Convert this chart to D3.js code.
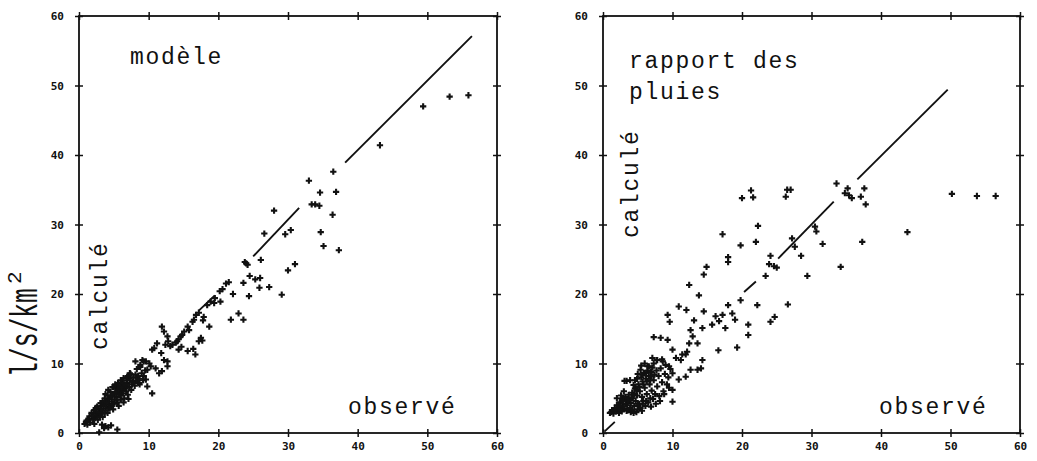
<!DOCTYPE html>
<html><head><meta charset="utf-8">
<script src="https://cdn.jsdelivr.net/npm/d3@7"></script>
<style>body{margin:0;background:#fff}svg{display:block}</style>
</head><body>
<svg id="c" width="1037" height="461"></svg>
<script>
// ---- data ----
const tickValues = [0, 10, 20, 30, 40, 50, 60];

// panel 1 "modèle": [observé, calculé]
const modelPoints = [
[49.4,47.0],[53.2,48.4],[55.9,48.6],[43.2,41.4],
[36.5,37.6],[33.0,36.3],[34.6,34.6],[36.9,34.7],[33.4,32.9],[33.9,32.9],[34.5,32.7],[36.4,31.4],[28.0,32.0],
[34.7,28.9],[35.1,26.9],[37.3,26.3],[26.6,28.7],[29.6,28.6],[30.4,29.2],[30.0,23.4],[31.0,24.3],[26.1,24.9],
[23.8,24.6],[24.0,24.4],[24.2,24.2],[24.5,22.6],[23.6,21.6],[25.3,22.1],[26.0,22.3],[25.9,20.9],[27.3,21.0],
[29.1,19.9],[24.4,19.7],[22.1,20.0],[21.5,21.7],[21.1,21.5],[20.6,20.7],[20.2,20.4],[22.9,17.2],[21.8,16.3],
[23.6,16.3],[19.5,19.4],[18.9,18.9],[18.4,18.4],[19.4,18.7],[20.3,18.9],[18.7,15.3],[17.2,17.3],[16.8,17.0],
[17.9,16.7],[17.8,16.2],[17.5,13.7],[17.2,13.2],[17.7,13.3],[16.3,16.0],[16.5,16.3],[15.6,15.3],[15.8,14.8],
[15.1,14.6],[14.8,14.1],[14.6,13.9],[14.3,13.5],[14.1,13.2],[13.9,13.0],[13.4,12.7],[13.1,12.5],[11.9,15.3],
[12.2,14.6],[15.6,11.8],[16.4,12.1],[16.7,11.3],[14.3,12.0],[14.7,12.4],[12.7,13.9],[12.8,13.2],[12.4,12.7],
[11.2,12.9],[10.5,12.0],[10.8,12.2],[11.8,11.5],[12.2,10.5],[12.7,10.3],[9.6,10.3],[9.1,10.5],[10.1,10.0],
[11.9,8.9],[12.7,9.6],[10.5,5.7],[9.8,6.7],[9.3,10.3],[11.0,9.3],[11.5,8.6],[8.4,7.9],[8.6,7.2],[9.6,7.7],
[8.1,10.3],[8.8,9.8],
[0.8,1.3],[1.0,1.6],[1.2,1.2],[1.4,2.0],[1.6,1.5],[1.8,2.4],[1.3,1.9],[2.0,1.9],[2.1,2.8],[2.3,2.2],[2.5,3.0],
[2.6,2.4],[2.8,3.5],[2.9,2.6],[3.0,3.1],[3.2,3.9],[3.3,2.9],[3.5,3.5],[3.6,4.2],[3.8,3.2],[3.9,3.8],[4.0,4.6],
[4.2,3.6],[4.3,4.1],[4.4,5.0],[4.6,3.9],[4.7,4.5],[4.8,5.4],[5.0,4.2],[5.1,4.8],[5.2,5.8],[5.3,6.5],[5.4,5.2],
[5.5,4.4],[5.6,6.0],[5.8,5.5],[5.9,6.8],[6.0,4.8],[6.1,6.2],[6.3,5.7],[6.4,7.0],[6.5,5.0],[6.6,6.4],[6.8,6.0],
[6.9,7.2],[7.0,5.5],[7.2,6.6],[7.3,7.6],[7.5,6.2],[7.6,7.0],[7.8,8.0],[8.0,6.8],[8.2,7.5],[8.5,8.2],[8.7,7.0],
[9.0,8.6],[9.2,7.6],[9.5,9.0],[8.3,9.2],[8.8,9.5],
[2.2,1.3],[2.7,1.9],[3.4,2.3],[4.1,2.9],[4.9,3.4],[5.7,3.9],[6.4,4.4],[7.1,4.9],[1.8,2.9],[2.4,3.6],[3.1,4.3],
[3.7,5.0],[4.5,5.9],[5.0,6.6],[6.2,7.3],[7.0,8.2],[7.4,8.5],
[1.5,2.4],[2.0,2.5],[2.4,2.8],[2.8,3.0],[3.1,3.5],[3.5,4.1],[3.9,4.4],[4.2,4.9],[4.6,5.3],[5.0,5.6],[5.3,5.9],
[5.7,6.3],[6.1,6.6],[6.5,6.8],[6.8,7.6],[7.2,7.9],[7.7,7.4],[8.1,8.4],[6.0,5.4],[5.4,4.8],[4.8,4.1],[4.4,3.5],
[3.7,2.8],[3.0,2.3],[1.1,1.8],[2.2,3.3],[2.6,3.8],[3.4,4.6],[4.1,5.4],[5.6,6.8],[6.7,6.9],[7.9,7.2],[8.6,7.8],
[9.3,8.2],[9.8,9.1],[10.3,9.6],
[4.8,6.6],[5.2,7.0],[5.6,7.2],[6.0,7.6],[6.4,7.9],[6.9,8.0],[7.3,8.6],[3.8,5.6],[4.2,6.2],[7.2,8.3],
[3.3,1.2],[3.8,1.0],[4.2,0.8],[4.6,1.1],[3.6,0.7],[5.5,0.5],[2.9,0.1]
];
const modelLine = [
  [[17.2,17.6],[19.5,19.8]],
  [[25.0,25.4],[31.6,32.4]],
  [[38.2,38.9],[56.4,57.1]]
];

// panel 2 "rapport des pluies": [observé, calculé]
const ratioPoints = [
[50.2,34.4],[53.8,34.1],[56.5,34.1],[43.8,28.9],[33.6,35.9],[35.2,35.2],[35.4,34.2],[34.8,34.5],[35.8,33.8],
[37.1,34.0],[37.6,35.2],[37.8,32.9],[37.3,27.5],[34.2,23.9],[31.6,27.2],[30.5,29.7],[30.7,29.0],[29.4,22.6],
[28.5,25.5],[27.2,28.0],[27.6,26.8],[26.5,35.0],[27.0,35.0],[26.3,34.0],[26.6,18.5],[24.1,25.5],[23.9,24.3],
[24.6,24.0],[25.0,23.8],[23.4,22.6],[24.1,16.0],[24.7,16.7],[22.2,18.4],[22.3,29.8],[22.0,27.5],[21.3,34.9],
[21.6,33.9],[20.0,33.8],[19.8,27.0],[17.2,28.6],[18.0,25.3],[18.0,24.6],[14.9,23.9],[14.5,22.8],[12.4,21.3],
[13.8,19.8],[10.9,18.2],[12.0,17.7],[14.5,17.5],[9.3,17.0],[9.6,16.0],[13.1,16.2],[19.8,19.1],[18.0,18.4],
[18.6,17.2],[19.0,16.3],[16.2,16.8],[16.7,16.1],[17.2,17.0],[17.6,15.1],[15.7,15.6],[20.9,15.6],[20.9,14.1],
[19.3,12.3],[16.6,11.9],[12.6,14.8],[12.9,13.9],[14.3,15.1],[14.3,10.5],[13.6,12.9],[12.4,12.9],[12.1,11.7],
[11.9,11.3],[10.0,12.0],[7.3,13.8],[8.3,13.7],[9.3,13.4],[10.5,10.8],[11.2,10.5],[11.4,11.3],[12.6,9.1],
[13.6,9.1],[14.1,9.3],[11.9,8.1],[10.9,7.7],[10.0,6.2],[10.0,4.5],[7.1,10.8],[7.8,10.5],[8.5,10.6],[9.5,9.6],
[10.0,8.6],
[1.0,2.9],[1.3,3.3],[1.5,2.8],[1.7,3.6],[1.9,3.1],[2.0,4.0],[2.2,3.4],[2.3,2.9],[2.4,4.4],[2.6,3.7],[2.7,3.1],
[2.8,4.9],[2.9,4.2],[3.0,3.5],[3.2,5.2],[3.3,4.6],[3.4,3.2],[3.5,4.0],[3.7,5.5],[3.8,4.8],[3.9,3.6],[4.0,4.3],
[4.2,5.8],[4.3,5.0],[4.5,3.9],[4.6,6.4],[4.7,4.6],[4.9,5.4],[5.0,3.4],[5.1,7.0],[5.2,4.2],[5.3,6.0],[5.5,8.0],
[5.6,5.2],[5.7,7.4],[5.8,4.6],[5.9,8.6],[6.0,6.5],[6.1,3.9],[6.2,7.8],[6.3,5.6],[6.4,9.0],[6.5,4.4],[6.6,8.2],
[6.7,7.0],[6.8,5.0],[6.9,8.8],[7.0,6.1],[7.1,9.4],[7.2,4.9],[7.3,7.6],[7.4,8.4],[7.5,5.6],[7.7,9.0],[7.8,6.7],
[8.0,8.2],[8.1,5.3],[8.3,9.3],[8.5,7.3],[8.7,6.0],[8.9,8.5],[9.0,9.8],[9.2,7.0],[9.4,8.0],[9.7,9.2],[3.4,7.5],
[3.9,7.6],[4.4,6.9],[4.9,7.8],[5.4,9.1],[5.5,9.7],[6.0,10.0],[6.6,9.6],[7.7,10.5],[8.6,10.3],[4.0,3.0],[4.8,3.0],
[5.6,3.2],[2.0,5.0],[2.6,5.4],[3.0,6.0],[4.4,2.9],[5.4,3.6],[6.2,4.6],[6.9,3.8],[7.6,4.2],[8.2,4.6],[8.8,5.6],
[9.5,6.5],
[1.2,3.0],[1.6,3.2],[2.1,3.6],[2.5,3.3],[2.9,3.8],[3.3,4.2],[3.6,4.7],[4.1,5.1],[4.5,5.6],[4.8,6.2],[5.2,6.6],
[5.8,7.0],[6.3,7.4],[6.8,7.6],[7.0,8.2],[6.2,8.6],[5.6,8.4],[5.0,8.5],[4.6,7.6],[3.1,7.5],[6.4,9.6],[7.3,10.0],
[2.3,3.9],[2.9,4.6],[3.6,3.3],[4.2,3.3],[5.0,4.0],[5.7,4.2]
];
const ratioLine = [
  [[0.2,0.2],[1.7,1.6]],
  [[20.3,20.3],[22.0,21.8]],
  [[25.2,25.1],[33.2,33.3]],
  [[36.6,36.5],[49.6,49.4]]
];

const modelTitle = ["modèle"];
const ratioTitle = ["rapport des", "pluies"];
const xLabel = "observé";
const yLabel = "calculé";
const unitLabel = "l/s/km";
const unitExp = "2";

// ---- drawing ----
const svg = d3.select("#c");
const ink = "#111";
const monoFont = "'Liberation Mono', 'DejaVu Sans Mono', monospace";
const tickFont = "'DejaVu Sans Mono', monospace";

function panel(cfg) {
  const x = d3.scaleLinear().domain([0, 60]).range([cfg.left, cfg.right]);
  const y = d3.scaleLinear().domain([0, 60]).range([433, 16]);
  const g = svg.append("g");

  g.append("rect").attr("x", cfg.left).attr("y", 16)
    .attr("width", cfg.right - cfg.left).attr("height", 433 - 16)
    .attr("fill", "none").attr("stroke", ink).attr("stroke-width", 1.8);

  const fix = (sel, horiz) => {
    sel.select(".domain").remove();
    sel.selectAll(".tick line").attr("stroke", ink).attr("stroke-width", 1.5);
    if (horiz) sel.selectAll(".tick line").attr("y1", -4).attr("y2", 4);
    else sel.selectAll(".tick line").attr("x1", -4).attr("x2", 4);
  };
  const lab = s => s.attr("font-family", tickFont).attr("font-weight", "bold")
    .attr("font-size", 11).attr("fill", ink);

  g.append("g").attr("transform", `translate(0,433)`)
    .call(d3.axisBottom(x).tickValues(tickValues).tickFormat(d3.format("d")))
    .call(s => fix(s, true))
    .call(s => s.selectAll("text").attr("y", 9).attr("dy", "0.71em").call(lab));
  g.append("g").attr("transform", `translate(0,16)`)
    .call(d3.axisTop(x).tickValues(tickValues).tickFormat(""))
    .call(s => fix(s, true));
  g.append("g").attr("transform", `translate(${cfg.left},0)`)
    .call(d3.axisLeft(y).tickValues(tickValues).tickFormat(d3.format("d")))
    .call(s => fix(s, false))
    .call(s => s.selectAll("text").attr("x", -15).attr("dy", "0.35em").call(lab));
  g.append("g").attr("transform", `translate(${cfg.right},0)`)
    .call(d3.axisRight(y).tickValues(tickValues).tickFormat(""))
    .call(s => fix(s, false));

  // reference line segments
  g.selectAll("line.ref").data(cfg.line).join("line").attr("class", "ref")
    .attr("x1", d => x(d[0][0])).attr("y1", d => y(d[0][1]))
    .attr("x2", d => x(d[1][0])).attr("y2", d => y(d[1][1]))
    .attr("stroke", ink).attr("stroke-width", 1.9);

  // points
  const sym = d3.symbol(d3.symbolCross, 22);
  g.selectAll("path.pt").data(cfg.points).join("path").attr("class", "pt")
    .attr("transform", d => `translate(${x(d[0])},${y(d[1])})`)
    .attr("d", sym).attr("fill", ink);

  // annotations
  const ann = (sel) => sel.attr("font-family", monoFont).attr("font-size", 23)
    .attr("letter-spacing", 1.7).attr("fill", ink);
  const t = g.append("text").attr("x", cfg.titleX).attr("y", cfg.titleY).call(ann);
  cfg.title.forEach((line, i) => t.append("tspan").attr("x", cfg.titleX)
    .attr("dy", i === 0 ? 0 : 31).text(line));
  g.append("text").attr("x", cfg.obsX).attr("y", 414).call(ann).text(xLabel);
  g.append("text").attr("transform", `translate(${cfg.calcX},${cfg.calcY}) rotate(-90)`)
    .call(ann).text(yLabel);
  return g;
}

panel({left: 79, right: 497, points: modelPoints, line: modelLine, title: modelTitle,
  titleX: 130, titleY: 64, obsX: 348, calcX: 107, calcY: 350});
panel({left: 603, right: 1020, points: ratioPoints, line: ratioLine, title: ratioTitle,
  titleX: 629, titleY: 68, obsX: 879, calcX: 638, calcY: 238});

// unit label (condensed, rotated)
svg.append("text").attr("transform", "translate(37,377) rotate(-90) scale(0.65,1)")
  .attr("font-family", monoFont).attr("font-size", 38).attr("fill", ink).text(unitLabel);
svg.append("text").attr("transform", "translate(21,284) rotate(-90)")
  .attr("font-family", monoFont).attr("font-size", 21).attr("fill", ink).text(unitExp);
</script>
</body></html>
